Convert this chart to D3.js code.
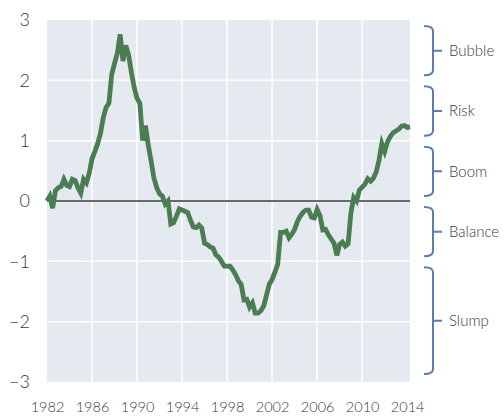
<!DOCTYPE html>
<html>
<head>
<meta charset="utf-8">
<script src="https://cdn.jsdelivr.net/npm/d3@7"></script>
<style>
  body { margin: 0; background: #fff; }
  text { font-family: Lato, "Open Sans", sans-serif; font-weight: 300; }
</style>
</head>
<body>
<div id="chart"></div>
<script>
// quarterly index, 1982 Q1 .. 2014 Q2
var startYear = 1982;
var values = [
  0.00, 0.08, -0.12, 0.17, 0.22, 0.24, 0.36, 0.26,
  0.24, 0.36, 0.34, 0.22, 0.13, 0.36, 0.30, 0.46,
  0.70, 0.82, 0.95, 1.12, 1.38, 1.55, 1.62, 2.10,
  2.28, 2.45, 2.76, 2.32, 2.58, 2.42, 2.13, 1.88,
  1.70, 1.62, 1.00, 1.25, 0.92, 0.66, 0.38, 0.22,
  0.12, 0.08, -0.05, 0.00, -0.38, -0.36, -0.25, -0.13,
  -0.15, -0.17, -0.19, -0.32, -0.43, -0.44, -0.40, -0.45,
  -0.70, -0.72, -0.76, -0.78, -0.89, -0.93, -1.00, -1.08,
  -1.08, -1.08, -1.14, -1.22, -1.32, -1.38, -1.64, -1.63,
  -1.76, -1.69, -1.86, -1.86, -1.82, -1.74, -1.56, -1.38,
  -1.30, -1.18, -1.05, -0.52, -0.52, -0.50, -0.61, -0.55,
  -0.47, -0.34, -0.25, -0.19, -0.15, -0.15, -0.27, -0.28,
  -0.14, -0.24, -0.48, -0.47, -0.56, -0.63, -0.70, -0.90,
  -0.72, -0.68, -0.75, -0.71, -0.20, 0.06, 0.00, 0.18,
  0.23, 0.28, 0.37, 0.33, 0.38, 0.48, 0.68, 0.95,
  0.82, 0.98, 1.07, 1.13, 1.16, 1.19, 1.24, 1.25,
  1.22, 1.23
];
var xTicks = [1982, 1986, 1990, 1994, 1998, 2002, 2006, 2010, 2014];
var yTicks = [-3, -2, -1, 0, 1, 2, 3];
var bandLabels = ["Bubble", "Risk", "Boom", "Balance", "Slump"];
var bandTops = [3, 2, 1, 0, -1];
var bandBottoms = [2, 1, 0, -1, -3];

var width = 504, height = 416;
var plotL = 47, plotR = 410, plotT = 20, plotB = 382;

var svg = d3.select("#chart").append("svg")
    .attr("width", width)
    .attr("height", height);

var x = d3.scaleLinear().domain([1982, 2014.25]).range([plotL, plotR]);
var y = d3.scaleLinear().domain([-3, 3]).range([plotB, plotT]);

svg.append("rect")
    .attr("x", plotL).attr("y", plotT)
    .attr("width", plotR - plotL).attr("height", plotB - plotT)
    .attr("fill", "#e5e9f0");

// grid
svg.append("g").selectAll("line")
    .data(xTicks.slice(1, -1))
    .enter().append("line")
    .attr("x1", function(d){ return x(d); })
    .attr("x2", function(d){ return x(d); })
    .attr("y1", plotT).attr("y2", plotB)
    .attr("stroke", "#fff").attr("stroke-width", 1.5);

svg.append("g").selectAll("line")
    .data(yTicks.filter(function(d){ return d > -3 && d < 3 && d != 0; }))
    .enter().append("line")
    .attr("x1", plotL).attr("x2", plotR)
    .attr("y1", function(d){ return y(d); })
    .attr("y2", function(d){ return y(d); })
    .attr("stroke", "#fff").attr("stroke-width", 1.5);

// axes
var yAxis = svg.append("g")
    .attr("transform", "translate(" + (plotL - 17) + ",0)")
    .call(d3.axisLeft(y).tickValues(yTicks).tickSize(0).tickPadding(0)
        .tickFormat(function(d){ return d < 0 ? "\u2212" + Math.abs(d) : d; }));
yAxis.select(".domain").remove();
yAxis.selectAll("text")
    .attr("font-size", 18)
    .attr("fill", "#3a3a3a")
    .style("font-family", "Lato, 'Open Sans', sans-serif")
    .style("font-weight", 300);

var xAxis = svg.append("g")
    .attr("transform", "translate(0," + (plotB + 20) + ")")
    .call(d3.axisBottom(x).tickValues(xTicks).tickSize(0).tickPadding(0)
        .tickFormat(d3.format("d")));
xAxis.select(".domain").remove();
xAxis.selectAll("text")
    .attr("font-size", 14.5)
    .attr("fill", "#3a3a3a")
    .style("font-family", "Lato, 'Open Sans', sans-serif")
    .style("font-weight", 300);

// zero line
svg.append("line")
    .attr("x1", plotL).attr("x2", plotR)
    .attr("y1", y(0)).attr("y2", y(0))
    .attr("stroke", "#6a6a6a").attr("stroke-width", 2);

// series
var line = d3.line()
    .x(function(d, i){ return x(startYear + i / 4); })
    .y(function(d){ return y(d); });

svg.append("path")
    .datum(values)
    .attr("d", line)
    .attr("fill", "none")
    .attr("stroke", "#4b7d52")
    .attr("stroke-width", 4.8)
    .attr("stroke-linejoin", "miter");

// brackets
var bx0 = 424, bx1 = 433, bx2 = 442;
function bandTop(i){ return y(bandTops[i]) + 6; }
function bandBot(i){ return y(bandBottoms[i]) - (i == 4 ? 8 : 5); }

var brackets = svg.append("g").selectAll("g")
    .data(bandLabels)
    .enter().append("g");

brackets.append("path")
    .attr("d", function(d, i){
        var t = bandTop(i), b = bandBot(i), m = (t + b) / 2;
        return "M" + bx0 + "," + t + " Q" + bx1 + "," + t + " " + bx1 + "," + (t + 5)
             + " L" + bx1 + "," + (b - 5)
             + " Q" + bx1 + "," + b + " " + bx0 + "," + b
             + " M" + bx1 + "," + m + " L" + bx2 + "," + m;
    })
    .attr("fill", "none")
    .attr("stroke", "#5b7db0")
    .attr("stroke-width", 2);

brackets.append("text")
    .attr("x", 449)
    .attr("y", function(d, i){ return (bandTop(i) + bandBot(i)) / 2; })
    .attr("dy", "0.35em")
    .attr("font-size", 15)
    .attr("fill", "#3a3a3a")
    .text(function(d){ return d; });
</script>
</body>
</html>
